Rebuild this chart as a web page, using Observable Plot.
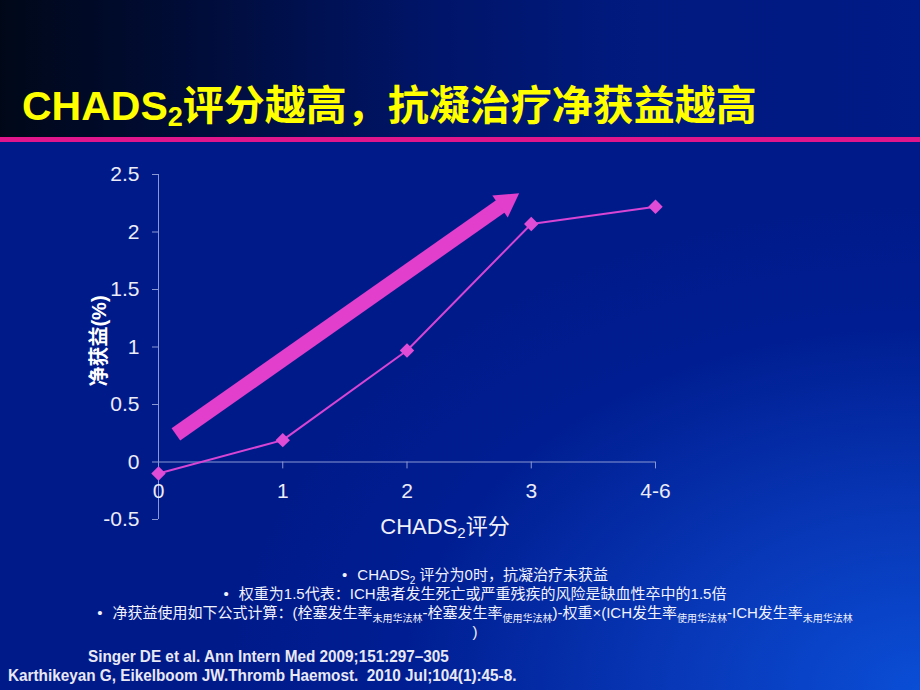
<!DOCTYPE html>
<html>
<head>
<meta charset="utf-8">
<script src="https://cdn.jsdelivr.net/npm/d3@7"></script>
<script src="https://cdn.jsdelivr.net/npm/@observablehq/plot@0.6"></script>
<style>
  html, body { margin: 0; padding: 0; }
  #slide {
    position: relative; width: 920px; height: 690px; overflow: hidden;
    background: radial-gradient(ellipse 75% 70% at 100% 100%, #0a4ed6 0%, #0838b8 35%, #001e92 75%, #001a8a 100%), #001a8a;
    font-family: "Liberation Sans", Arial, "Noto Sans CJK SC", sans-serif;
  }
  #topband {
    position: absolute; left: 0; top: 0; width: 920px; height: 137px;
    background: linear-gradient(to right, #000818 0%, #000c36 20%, #001466 45%, #001a80 70%, #001a86 100%);
  }
  #rule { position: absolute; left: 0; top: 137px; width: 920px; height: 5px; background: #e0168c; }
  #title {
    position: absolute; left: 22px; top: 86px; white-space: nowrap;
    font: bold 41px/41px "Liberation Sans", Arial, "Noto Sans CJK SC", sans-serif; color: #ffff00;
  }
  #title sub { font-size: 27px; vertical-align: -6px; line-height: 0; }
  #chart { position: absolute; left: 0; top: 150px; }
  #ylabel {
    position: absolute; left: 97px; top: 341px; transform: translate(-50%, -50%) rotate(-90deg);
    font: bold 20px "Liberation Sans", Arial, "Noto Sans CJK SC", sans-serif; color: #ffffff; white-space: nowrap;
  }
  #xlabel {
    position: absolute; left: 445px; top: 514px; transform: translateX(-50%);
    font: 22px/26px "Liberation Sans", Arial, "Noto Sans CJK SC", sans-serif; color: #f0f0fa; white-space: nowrap;
  }
  #xlabel sub { font-size: 15px; vertical-align: -4px; line-height: 0; }
  .note {
    position: absolute; left: 0; width: 920px; text-align: center; white-space: nowrap;
    font: 15px/18px "Liberation Sans", Arial, "Noto Sans CJK SC", sans-serif; color: #f2f2fc;
    padding-left: 30px; box-sizing: border-box;
  }
  .note sub { font-size: 10px; vertical-align: -4px; line-height: 0; }
  .bul { margin-right: 10px; }
  .ref {
    position: absolute; white-space: nowrap; transform-origin: 0 50%; transform: scaleX(0.9);
    font: bold 17px/20px "Liberation Sans", Arial, sans-serif; color: #e8e8f4;
  }
</style>
</head>
<body>
<div id="slide">
  <div id="topband"></div>
  <div id="rule"></div>
  <div id="title">CHADS<sub>2</sub>评分越高，抗凝治疗净获益越高</div>
  <div id="chart"></div>
  <div id="ylabel">净获益(%)</div>
  <div id="xlabel">CHADS<sub>2</sub>评分</div>
  <div class="note" style="top:566px;"><span class="bul">•</span>CHADS<sub>2</sub> 评分为0时，抗凝治疗未获益</div>
  <div class="note" style="top:585px;"><span class="bul">•</span>权重为1.5代表：ICH患者发生死亡或严重残疾的风险是缺血性卒中的1.5倍</div>
  <div class="note" style="top:604px;"><span class="bul">•</span>净获益使用如下公式计算：(栓塞发生率<sub>未用华法林</sub>-栓塞发生率<sub>使用华法林</sub>)-权重×(ICH发生率<sub>使用华法林</sub>-ICH发生率<sub>未用华法林</sub></div>
  <div class="note" style="top:623px;">)</div>
  <div class="ref" style="left:88px; top:647px;">Singer DE et al. Ann Intern Med 2009;151:297–305</div>
  <div class="ref" style="left:8px; top:666px;">Karthikeyan G, Eikelboom JW.Thromb Haemost.&nbsp; 2010 Jul;104(1):45-8.</div>
</div>
<script>
// ---- data ----
const xLabels = ["0", "1", "2", "3", "4-6"];
const xIndex = [0, 1, 2, 3, 4];
const netBenefit = [-0.1, 0.19, 0.97, 2.07, 2.22];
const yTicks = [-0.5, 0, 0.5, 1, 1.5, 2, 2.5];
const arrowFrom = [0.14, 0.24];
const arrowTo = [2.80, 2.26];

const series = xIndex.map((x, i) => ({x, y: netBenefit[i]}));
const xCats = xIndex.map((x, i) => ({x, label: xLabels[i]}));

const axisStroke = "#8a98d2";
const textFill = "#ececf8";
const pink = "#e23fcc";

const chart = Plot.plot({
  width: 920,
  height: 400,
  marginLeft: 158,
  marginRight: 265,
  marginTop: 24,
  marginBottom: 31,
  style: {background: "transparent", fontFamily: "'Liberation Sans', Arial, sans-serif", color: textFill},
  x: {domain: [0, 4], axis: null},
  y: {domain: [-0.5, 2.5], axis: null},
  marks: [
    Plot.ruleX([0], {y1: -0.5, y2: 2.5, stroke: axisStroke, strokeWidth: 1}),
    Plot.ruleY([0], {x1: 0, x2: 4, stroke: axisStroke, strokeWidth: 1}),
    Plot.axisY(yTicks, {
      tickSize: 6, tickPadding: 13, fontSize: 21,
      stroke: axisStroke, fill: textFill, label: null,
      tickFormat: d => String(d)
    }),
    Plot.ruleX(xCats, {x: "x", y1: 0, y2: -0.06, stroke: axisStroke}),
    Plot.text(xCats, {x: "x", y: 0, text: "label", dy: 29, fontSize: 21, fill: textFill}),
    Plot.link([{a: arrowFrom, b: arrowTo}], {
      x1: d => d.a[0], y1: d => d.a[1], x2: d => d.b[0], y2: d => d.b[1],
      stroke: pink, strokeWidth: 15, strokeLinecap: "butt"
    }),
    Plot.dot([{p: arrowTo}], {
      x: d => d.p[0], y: d => d.p[1], symbol: "triangle", r: 10, fill: pink, stroke: "none", rotate: 55
    }),
    Plot.line(series, {x: "x", y: "y", stroke: "#d845d4", strokeWidth: 2}),
    Plot.dot(series, {x: "x", y: "y", symbol: "diamond2", r: 6.5, fill: "#e04cd6", stroke: "none"})
  ]
});
document.getElementById("chart").appendChild(chart);
</script>
</body>
</html>
